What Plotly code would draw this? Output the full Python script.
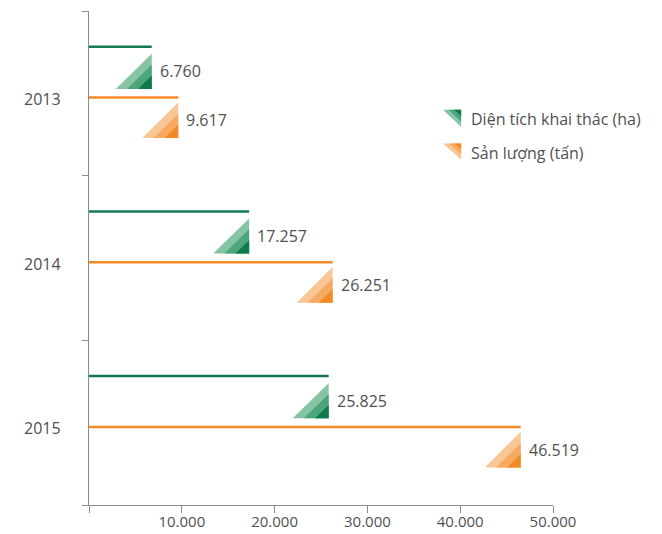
import plotly.graph_objects as go

# Data
years = ["2013", "2014", "2015"]
area_ha = [6760, 17257, 25825]          # Diện tích khai thác (ha)
output_tons = [9617, 26251, 46519]      # Sản lượng (tấn)
x_tick_vals = [0, 10000, 20000, 30000, 40000, 50000]
x_tick_text = ["", "10.000", "20.000", "30.000", "40.000", "50.000"]
series_names = ["Diện tích khai thác (ha)", "Sản lượng (tấn)"]

GREEN = ["#86c4a6", "#4da57b", "#0e7a4b"]
ORANGE = ["#f9c796", "#f7aa62", "#f28b25"]
LINE_GREEN = "#137a50"
LINE_ORANGE = "#f58a26"
TEXT = "#505050"
AXIS = "#8c8c8c"
FONT = "Open Sans"

TRI_W = 3880            # triangle width in x units
SCALES = [1.0, 0.69, 0.38]


def fmt(v):
    return f"{v:,}".replace(",", ".")


fig = go.Figure()


def add_series(values, line_off, tri_top, tri_bot, colors, line_color):
    # thin bar drawn as a line from the axis to the value
    xs, ys = [], []
    for i, v in enumerate(values):
        xs += [0, v, None]
        ys += [i + line_off, i + line_off, None]
    fig.add_trace(go.Scatter(x=xs, y=ys, mode="lines",
                             line=dict(color=line_color, width=2.5),
                             hoverinfo="skip", showlegend=False))
    # striped right triangle with its right angle at the bottom-right corner
    for k, s in enumerate(SCALES):
        txs, tys = [], []
        for i, v in enumerate(values):
            yb = i + tri_bot
            yt = yb - (tri_bot - tri_top) * s
            txs += [v - TRI_W * s, v, v, v - TRI_W * s, None]
            tys += [yb, yb, yt, yb, None]
        fig.add_trace(go.Scatter(x=txs, y=tys, mode="lines", fill="toself",
                                 fillcolor=colors[k],
                                 line=dict(color=colors[k], width=0),
                                 hoverinfo="skip", showlegend=False))
    for i, v in enumerate(values):
        fig.add_annotation(x=v, y=i + (tri_top + tri_bot) / 2, text=fmt(v),
                           showarrow=False, xanchor="left", yanchor="middle",
                           xshift=6, font=dict(family=FONT, size=16, color=TEXT))


add_series(area_ha, -0.283, -0.24, -0.027, GREEN, LINE_GREEN)
add_series(output_tons, 0.026, 0.055, 0.272, ORANGE, LINE_ORANGE)

# year labels beside the category axis
for i, y in enumerate(years):
    fig.add_annotation(x=0, xref="paper", y=i + 0.035, yref="y", text=y,
                       showarrow=False, xanchor="right", yanchor="middle",
                       xshift=-26, font=dict(family=FONT, size=16, color=TEXT))

# legend: small striped triangles with the right angle at the top-right
legend_items = [
    (series_names[0], GREEN, 0.800, 0.765, 0.781),
    (series_names[1], ORANGE, 0.732, 0.699, 0.713),
]
for name, colors, ytop, ybot, ytext in legend_items:
    x0, x1 = 0.763, 0.802
    for k, s in enumerate(SCALES):
        xl = x1 - (x1 - x0) * s
        yb = ytop - (ytop - ybot) * s
        fig.add_shape(type="path", xref="paper", yref="paper",
                      path=f"M {xl} {ytop} L {x1} {ytop} L {x1} {yb} Z",
                      fillcolor=colors[k], line=dict(width=0))
    fig.add_annotation(x=0.819, xref="paper", y=ytext, yref="paper", text=name,
                       showarrow=False, xanchor="left", yanchor="middle",
                       font=dict(family=FONT, size=16, color=TEXT))

fig.update_layout(
    width=662, height=534,
    margin=dict(l=89, r=109, t=11, b=29),
    paper_bgcolor="white", plot_bgcolor="white",
    font=dict(family=FONT, size=16, color=TEXT),
    xaxis=dict(range=[0, 50000], tickvals=x_tick_vals, ticktext=x_tick_text,
               tickfont=dict(family=FONT, size=15, color=TEXT),
               ticklabelstandoff=-4,
               showline=True, linecolor=AXIS, linewidth=1,
               ticks="outside", ticklen=7, tickcolor=AXIS, tickwidth=1,
               showgrid=False, zeroline=False, fixedrange=True,
               automargin=False),
    yaxis=dict(range=[2.5, -0.5], tickvals=[-0.5, 0.5, 1.5, 2.5],
               ticktext=["", "", "", ""],
               showline=True, linecolor=AXIS, linewidth=1,
               ticks="outside", ticklen=6, tickcolor=AXIS, tickwidth=1,
               showgrid=False, zeroline=False, fixedrange=True,
               automargin=False),
    showlegend=False,
)

fig.write_html("out.html")
